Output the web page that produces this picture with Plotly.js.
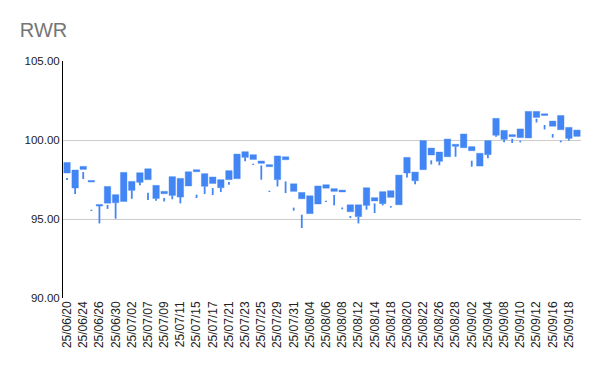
<!DOCTYPE html>
<html>
<head>
<meta charset="utf-8">
<script src="https://cdn.plot.ly/plotly-3.0.1.min.js"></script>
<style>html,body{margin:0;padding:0;background:#fff;}#chart{width:600px;height:371px;}</style>
</head>
<body>
<div id="chart"></div>
<script>
// Trading days (yy/mm/dd)
var dates = [
  "25/06/20","25/06/23","25/06/24","25/06/25","25/06/26","25/06/27","25/06/30",
  "25/07/01","25/07/02","25/07/03","25/07/07","25/07/08","25/07/09","25/07/10","25/07/11",
  "25/07/14","25/07/15","25/07/16","25/07/17","25/07/18","25/07/21","25/07/22","25/07/23",
  "25/07/24","25/07/25","25/07/28","25/07/29","25/07/30","25/07/31","25/08/01",
  "25/08/04","25/08/05","25/08/06","25/08/07","25/08/08","25/08/11","25/08/12","25/08/13",
  "25/08/14","25/08/15","25/08/18","25/08/19","25/08/20","25/08/21","25/08/22",
  "25/08/25","25/08/26","25/08/27","25/08/28","25/08/29",
  "25/09/02","25/09/03","25/09/04","25/09/05","25/09/08","25/09/09","25/09/10",
  "25/09/11","25/09/12","25/09/15","25/09/16","25/09/17","25/09/18","25/09/19"
];
// Body ends
var open = [
  98.58,98.10,98.33,97.44,95.92,97.06,96.54,
  97.95,97.38,97.93,98.18,97.13,96.75,97.68,97.57,
  97.99,98.12,97.87,97.66,97.49,98.06,99.11,99.26,
  99.07,98.67,98.44,98.99,98.94,97.23,96.68,
  96.47,97.09,97.17,96.92,96.83,95.90,95.90,96.98,
  96.35,96.73,96.79,97.78,98.90,97.97,99.96,
  99.49,99.24,100.06,99.73,100.38,
  99.58,99.16,99.96,101.37,100.61,100.34,100.70,
  101.81,101.81,101.66,101.20,101.55,100.80,100.63
];
var close = [
  97.91,96.96,98.14,97.34,95.82,96.00,96.03,
  96.11,96.81,97.32,97.49,96.30,96.60,96.49,96.39,
  97.09,97.99,97.07,97.25,96.98,97.49,97.55,98.90,
  98.77,98.52,98.31,97.49,98.75,96.75,96.28,
  95.34,95.95,96.95,96.75,96.71,95.46,95.15,95.86,
  96.14,95.97,96.37,95.90,97.91,97.42,98.12,
  99.05,98.65,98.94,99.60,99.51,
  99.32,98.35,99.07,100.30,100.04,100.21,100.15,
  100.13,101.43,101.55,100.87,100.65,100.10,100.23
];
// Wick ends
var high = [
  97.60,97.00,97.97,95.59,95.82,95.89,96.03,
  96.90,96.81,97.32,96.66,96.30,96.33,96.49,96.39,
  97.60,96.54,97.07,96.96,96.98,97.34,98.50,98.90,
  98.50,98.39,96.79,97.49,97.38,95.72,95.27,
  96.00,96.60,96.16,96.52,95.73,95.19,95.15,95.86,
  95.99,95.97,95.82,96.90,97.91,97.42,99.00,
  98.71,98.65,99.50,99.60,100.00,
  98.69,98.80,99.07,100.30,100.04,100.08,99.96,
  101.00,101.35,100.95,100.38,99.96,100.10,100.45
];
var low = [
  97.47,96.58,97.53,95.51,94.72,95.64,95.02,
  96.20,96.28,97.13,96.20,96.16,96.11,96.25,95.99,
  97.30,96.33,96.58,96.52,96.71,97.17,98.00,98.65,
  98.42,97.49,96.71,97.06,96.64,95.53,94.43,
  95.60,96.30,96.08,95.86,95.61,95.06,94.72,95.59,
  95.38,95.86,95.72,96.40,97.63,97.20,98.60,
  98.46,98.40,99.30,98.94,99.80,
  98.31,98.60,98.84,100.20,99.85,99.81,99.85,
  100.70,101.11,100.67,100.15,99.85,99.96,100.35
];
// Tick labels shown (every second trading day)
var tickLabels = [
  "25/06/20","25/06/24","25/06/26","25/06/30","25/07/02","25/07/07","25/07/09","25/07/11",
  "25/07/15","25/07/17","25/07/21","25/07/23","25/07/25","25/07/29","25/07/31","25/08/04",
  "25/08/06","25/08/08","25/08/12","25/08/14","25/08/18","25/08/20","25/08/22","25/08/26",
  "25/08/28","25/09/02","25/09/04","25/09/08","25/09/10","25/09/12","25/09/16","25/09/18"
];
var yTicks = [90, 95, 100, 105];

var blue = "#4285F4";
var bodyBase = open.map(function(o, i){ return Math.min(o, close[i]); });
var bodyLen = open.map(function(o, i){ return Math.max(Math.abs(o - close[i]), 0.08); });
var wickBase = low;
var wickLen = high.map(function(h, i){ return Math.max(h - low[i], 0.08); });

var wicks = {
  type: "bar", x: dates, y: wickLen, base: wickBase, width: 0.22,
  marker: {color: blue, line: {width: 0}}, hoverinfo: "skip", showlegend: false
};
var bodies = {
  type: "bar", x: dates, y: bodyLen, base: bodyBase, width: 0.8,
  marker: {color: blue, line: {color: "rgba(66,133,244,0.4)", width: 1}},
  hoverinfo: "skip", showlegend: false
};

var layout = {
  width: 600, height: 371,
  margin: {l: 63, r: 19, t: 61, b: 73},
  paper_bgcolor: "#fff", plot_bgcolor: "#fff",
  barmode: "overlay",
  font: {family: "Liberation Sans, Arial, sans-serif", size: 12, color: "#222"},
  title: {
    text: "RWR", xref: "container", yref: "container",
    x: 0.033, xanchor: "left", y: 0.918, yanchor: "middle",
    font: {family: "Liberation Sans, Arial, sans-serif", size: 20, color: "#757575"}
  },
  xaxis: {
    type: "category", categoryorder: "array", categoryarray: dates,
    range: [-0.5, dates.length - 0.5],
    tickmode: "array", tickvals: tickLabels, ticktext: tickLabels,
    tickangle: -90, showgrid: false, showline: false, zeroline: false, ticks: "",
    tickfont: {size: 12, color: "#222"}, automargin: false
  },
  yaxis: {
    range: [90, 105], tickmode: "array", tickvals: yTicks,
    tickformat: ".2f", showgrid: true, gridcolor: "#cccccc", gridwidth: 1,
    showline: true, linecolor: "#000", linewidth: 1, zeroline: false, ticks: "",
    tickfont: {size: 11.5, color: "#222"}, automargin: false
  }
};

Plotly.newPlot("chart", [wicks, bodies], layout, {displayModeBar: false, staticPlot: true});
</script>
</body>
</html>
